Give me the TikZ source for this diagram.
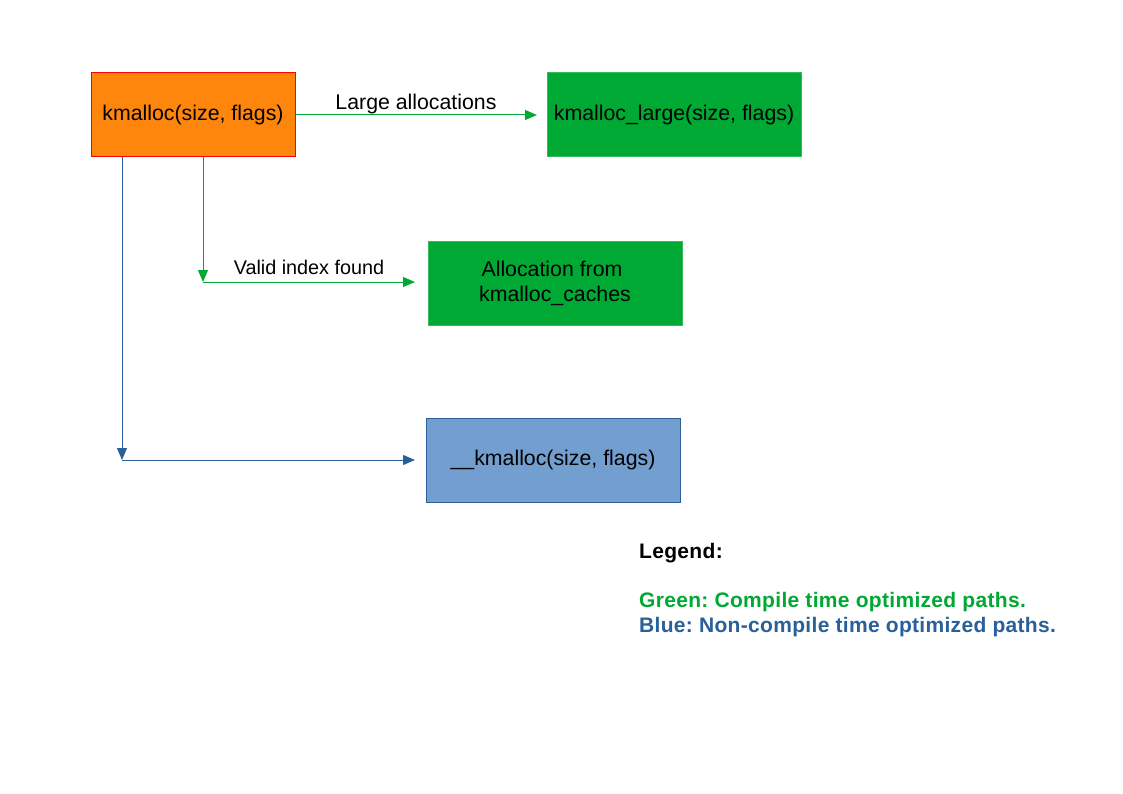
\documentclass[tikz,border=0pt]{standalone}
\usepackage{fontspec}
\setmainfont{Liberation Sans}
\usetikzlibrary{arrows.meta}
\definecolor{cgreen}{HTML}{00A933}
\definecolor{corange}{HTML}{FF860D}
\definecolor{cred}{HTML}{FF0000}
\definecolor{cblue}{HTML}{2A6099}
\definecolor{cblfill}{HTML}{729FCF}
\frenchspacing
\begin{document}
\begin{tikzpicture}[x=1pt,y=-1pt,
  box/.style={rectangle, minimum width=#1, minimum height=84pt, inner sep=0pt, font=\fontsize{21.3}{25}\selectfont, align=center, line width=1pt},
  box/.default=254pt,
  glink/.style={draw=cgreen, line width=1pt, -{Triangle[length=12pt,width=10pt]}},
  blink/.style={draw=cblue, line width=1pt, -{Triangle[length=12pt,width=10pt]}},
  lbl/.style={font=\fontsize{#1}{#1}\selectfont, inner sep=0pt, anchor=base},
  leg/.style={font=\fontsize{21}{24}\bfseries\addfontfeature{LetterSpace=1.5}\selectfont, inner sep=0pt, anchor=base west}
]
\useasboundingbox (0,0) rectangle (1123,794);
\fill[white] (0,0) rectangle (1123,794);

\node[box=204pt, fill=corange, draw=cred] (km) at (193,115) {kmalloc(size, flags)};
\node[box, fill=cgreen, draw=cgreen!80!white] (kml) at (674,115) {kmalloc\_large(size, flags)};
\node[box, fill=cgreen, draw=cgreen!80!white] (alloc) at (555,283) {Allocation from\hspace{6pt} \\ kmalloc\_caches};
\node[box, fill=cblfill, draw=cblue] (kmu) at (553,460) {\_\_kmalloc(size, flags)};

\coordinate (gtop) at (203,157);
\coordinate (gc) at (203,282);
\coordinate (gend) at (415,282);
\coordinate (btop) at (122,157);
\coordinate (bc) at (122,460);
\coordinate (bend) at (415,460);
\coordinate (lend) at (537,115);

\draw[glink] (km.east) -- (lend);
\node[lbl=21.3] (l1) at (416,110) {Large allocations};

\draw[glink] (gtop) -- (gc);
\draw[glink] (gc) -- (gend);
\node[lbl=19.8] (l2) at (309,274) {Valid index found};

\draw[blink] (btop) -- (bc);
\draw[blink] (bc) -- (bend);

\node[leg] (lg) at (639,558) {Legend:};
\node[leg, text=cgreen] (lgg) at (639,607) {Green: Compile time optimized paths.};
\node[leg, text=cblue] (lgb) at (639,632) {Blue: Non-compile time optimized paths.};
\end{tikzpicture}
\end{document}
